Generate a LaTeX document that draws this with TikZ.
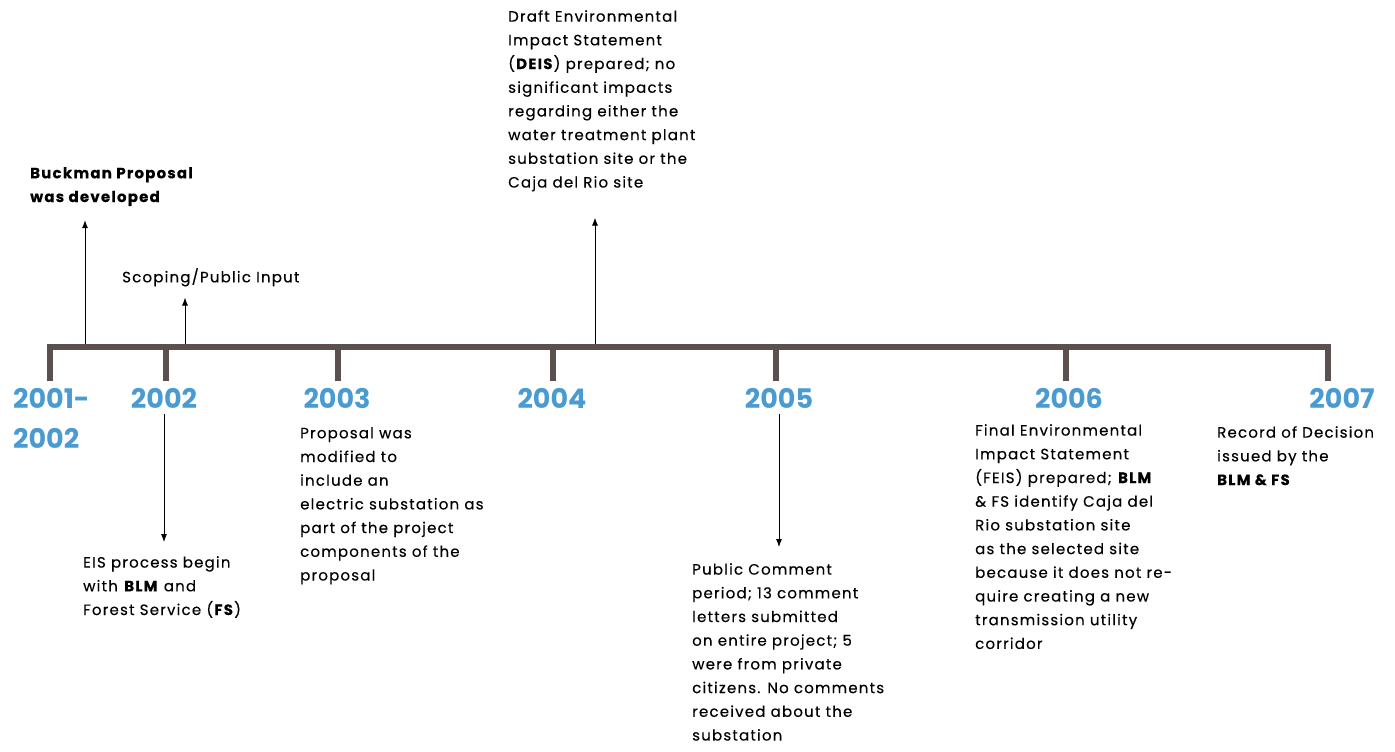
\documentclass[tikz,border=0pt]{standalone}
\usepackage{fontspec}
\setmainfont{Poppins}
\newfontfamily\eventfont{Poppins}[LetterSpace=8, FakeBold=0.25]
\usetikzlibrary{positioning, arrows.meta}
\definecolor{barcol}{HTML}{5A5050}
\definecolor{yearblue}{HTML}{4A9BD1}

\begin{document}
\begin{tikzpicture}[x=1pt, y=-1pt,
    event/.style={align=left, inner sep=0pt, anchor=north west, font=\fontsize{15}{23.7}\selectfont\eventfont},
    year/.style={text=yearblue, inner sep=0pt, font=\fontsize{27}{40}\selectfont\bfseries},
    yeartick/.style={barcol, line width=6pt},
    pointer/.style={-{Latex[length=8pt,width=6pt]}, thick}]
    \useasboundingbox (0,0) rectangle (1395,752);
    % timeline bar and ticks
    \draw[yeartick] (47,347) -- (1331,347);
    \foreach \x in {50,166,338,553,776,1066,1328} {
        \draw[yeartick] (\x,345) -- (\x,381);
    }
    % years
    \node[year, align=left, anchor=north west] (y2001) at (13,388) {2001-\\2002};
    \foreach \x/\yr in {164/2002, 337/2003, 552/2004, 779/2005, 1069/2006, 1342/2007} {
        \node[year] (y\yr) at (\x,398) {\yr};
    }
    % events above the bar
    \node[event, font=\fontsize{15}{23.7}\selectfont\eventfont\bfseries] (buckman) at (30,167) {Buckman Proposal\\was developed};
    \node[event] (scoping) at (122,268) {Scoping/Public Input};
    \node[event] (deis) at (508,10) {Draft Environmental\\Impact Statement\\(\textbf{DEIS}) prepared; no\\significant impacts\\regarding either the\\water treatment plant\\substation site or the\\Caja del Rio site};
    \coordinate (buckroot) at (85,344);
    \coordinate (scoperoot) at (185,344);
    \coordinate (deisroot) at (595,344);
    \draw[pointer, shorten >=14pt] (buckroot) -- (buckroot |- buckman.south);
    \draw[pointer, shorten >=11pt] (scoperoot) -- (scoperoot |- scoping.south);
    \draw[pointer, shorten >=26pt] (deisroot) -- (deisroot |- deis.south);
    % events below the bar
    \node[event] (eis) at (83,556) {EIS process begin\\with \textbf{BLM} and\\Forest Service (\textbf{FS})};
    \node[event] (modified) at (300,427) {Proposal was\\modified to\\include an\\electric substation as\\part of the project\\components of the\\proposal};
    \node[event] (comment) at (692,563) {Public Comment\\period; 13 comment\\letters submitted\\on entire project; 5\\were from private\\citizens. No comments\\received about the\\substation};
    \node[event] (feis) at (975,424) {Final Environmental\\Impact Statement\\(FEIS) prepared; \textbf{BLM}\\\& FS identify Caja del\\Rio substation site\\as the selected site\\because it does not re-\\quire creating a new\\transmission utility\\corridor};
    \node[event] (decision) at (1217,426) {Record of Decision\\issued by the\\\textbf{BLM \& FS}};
    \draw[pointer, shorten <=6pt, shorten >=14pt] (y2002.south) -- (y2002.south |- eis.north);
    \draw[pointer, shorten <=6pt, shorten >=16pt] (y2005.south) -- (y2005.south |- comment.north);
\end{tikzpicture}
\end{document}
